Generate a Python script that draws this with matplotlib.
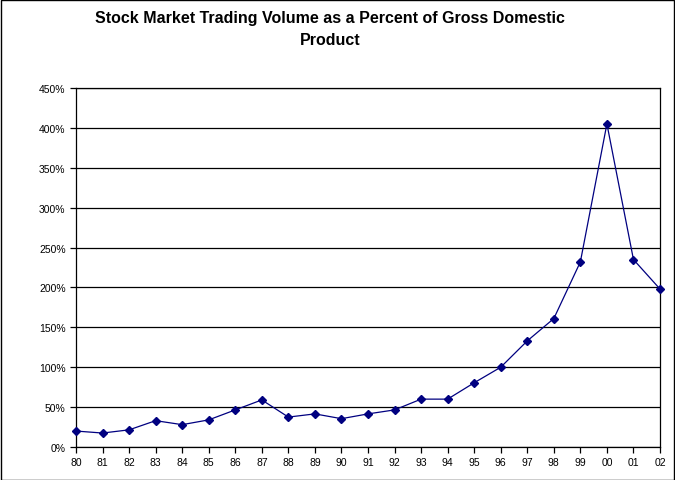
import matplotlib.pyplot as plt
from matplotlib.ticker import FuncFormatter, MultipleLocator
from matplotlib.patches import Rectangle

years = ['80', '81', '82', '83', '84', '85', '86', '87', '88', '89', '90', '91',
         '92', '93', '94', '95', '96', '97', '98', '99', '00', '01', '02']
volume_pct = [20, 17.5, 21.5, 33, 28, 34, 46.5, 59, 37.5, 41.5, 35.5, 41.5,
              46.5, 60, 60, 80.5, 100, 133, 161, 232, 405, 235, 198]

plt.rcParams['font.family'] = ['Liberation Sans', 'DejaVu Sans']

fig = plt.figure(figsize=(6.75, 4.81), dpi=100)
ax = fig.add_axes([76 / 675, 1 - 448 / 481, (660 - 76) / 675, (448 - 89) / 481])

x = range(len(years))
ax.plot(x, volume_pct, color='#000080', lw=0.9, marker='D', ms=4.2,
        mec='#000080', mfc='#000080', zorder=3, clip_on=False)

ax.set_xlim(0, len(years) - 1)
ax.set_ylim(0, 450)
ax.set_xticks(list(x))
ax.set_xticklabels(years)
ax.yaxis.set_major_locator(MultipleLocator(50))
ax.yaxis.set_major_formatter(FuncFormatter(lambda v, p: f'{v:.0f}%'))
ax.grid(axis='y', color='black', lw=0.9)
ax.tick_params(labelsize=7.5, length=4, width=0.9, color='black', direction='out')
ax.tick_params(axis='x', pad=3)
for s in ax.spines.values():
    s.set_linewidth(0.9)

fig.text(0.489, 1 - 18 / 481, 'Stock Market Trading Volume as a Percent of Gross Domestic',
         ha='center', va='center', fontsize=11.5, fontweight='bold')
fig.text(0.489, 1 - 41 / 481, 'Product', ha='center', va='center',
         fontsize=11.5, fontweight='bold')

fig.patches.append(Rectangle((0.5 / 675, 0.5 / 481), 673.5 / 675, 479.5 / 481,
                             transform=fig.transFigure, fill=False,
                             edgecolor='black', lw=1))

fig.savefig('out.png', dpi=100)
